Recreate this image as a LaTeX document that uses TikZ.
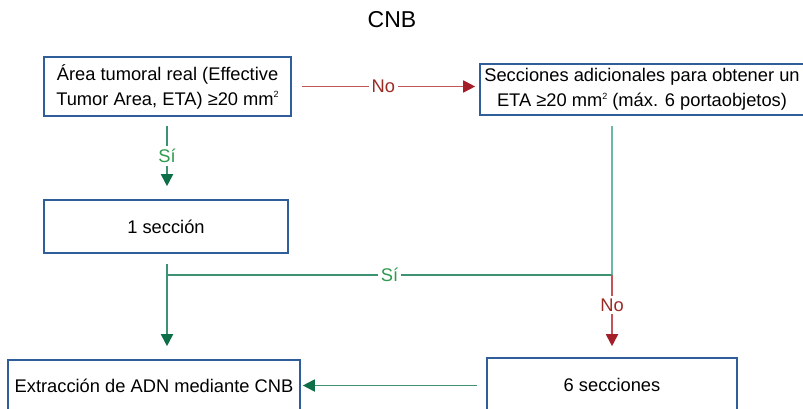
\documentclass[tikz,border=0pt]{standalone}
\usepackage{fontspec}
\setmainfont{Liberation Sans}
\usetikzlibrary{arrows.meta}
\definecolor{boxblue}{HTML}{2F5E9B}
\definecolor{lgreen}{HTML}{3E9272}
\definecolor{tgreen}{HTML}{6CB8A2}
\definecolor{agreen}{HTML}{0E6E48}
\definecolor{sigreen}{HTML}{2E9B4F}
\definecolor{lred}{HTML}{C4545A}
\definecolor{ared}{HTML}{A3202B}
\definecolor{nored}{HTML}{9B2B25}
\newcommand{\sqr}{\raisebox{0.75ex}{\fontsize{9}{9}\selectfont 2}}
\tikzset{
  box/.style={draw=boxblue, line width=1.6pt, fill=white, align=center, inner sep=0pt},
  gline/.style={draw=lgreen, line width=1.8pt},
  tline/.style={draw=tgreen, line width=1.8pt},
  rline/.style={draw=lred, line width=1.8pt},
  garrow/.style={gline, -{Triangle[length=12pt,width=12pt,color=agreen]}},
  rarrow/.style={rline, -{Triangle[length=12pt,width=12pt,color=ared]}},
  silab/.style={fill=white, text=sigreen, inner sep=3pt},
  nolab/.style={fill=white, text=nored, inner sep=3pt},
}
\begin{document}
\begin{tikzpicture}[x=1pt,y=-1pt, font=\fontsize{18.3}{25}\selectfont]
\useasboundingbox (0,0) rectangle (803,409);
\clip (0,0) rectangle (803,409);
\node[font=\fontsize{23}{26}\selectfont] (title) at (392,20) {CNB};
\node[box, minimum width=247pt, minimum height=59pt] (b1) at (167.5,86.5)
  {Área tumoral real (Effective\\Tumor Area, ETA) ≥20 mm\sqr};
\node[box, minimum width=324pt, minimum height=51pt] (b2) at (642,89.5)
  {Secciones adicionales para obtener un\\ETA ≥20 mm\sqr{} (máx. 6 portaobjetos)};
\node[box, minimum width=244pt, minimum height=53pt] (b3) at (166,226.5) {1 sección};
\node[box, minimum width=292pt, minimum height=51pt] (b4) at (154,385.5) {Extracción de ADN mediante CNB};
\node[box, minimum width=250pt, minimum height=54pt] (b5) at (612,385) {6 secciones};
\coordinate (j) at (612,275);
\coordinate (k) at (167,275);
% No from b1 to b2
\draw[rarrow] ([xshift=10pt]b1.east) -- ([xshift=-4pt]b1.east -| b2.west)
  node[nolab, pos=0.47] (no1) {No};
% Si from b1 to b3
\draw[garrow] ([yshift=-9pt]b1.south -| k) -- ([yshift=13pt]b3.north -| k)
  node[silab, pos=0.5] (si1) {Sí};
% from b2 down to junction
\draw[tline] ([yshift=-10pt]b2.south -| j) -- (j);
% horizontal Si
\draw[gline] (j) -- (k) node[silab, pos=0.5] (si2) {Sí};
% down to b4
\draw[garrow] ([yshift=-10pt]b3.south -| k) -- ([yshift=13pt]b4.north -| k);
% No down to b5
\draw[rarrow] (j) -- ([yshift=11pt]b5.north -| j) node[nolab, pos=0.42] (no2) {No};
% b5 to b4
\draw[garrow] ([xshift=-9pt]b5.west |- b4.east) -- ([xshift=2pt]b4.east);
\end{tikzpicture}
\end{document}
